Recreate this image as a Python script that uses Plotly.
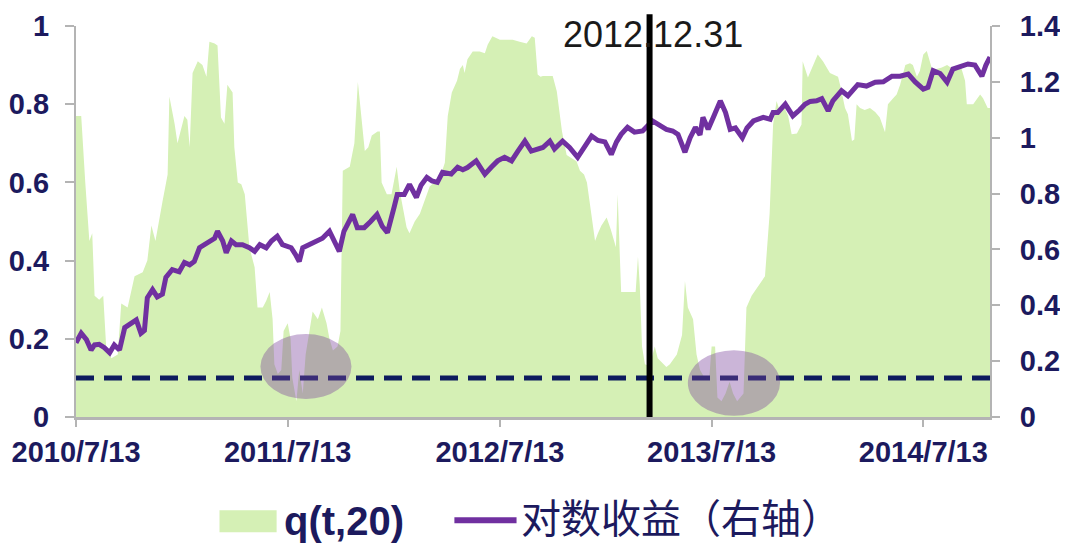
import plotly.graph_objects as go

# q(t,20) series (left axis)
q_dates = [
    '2010-07-13', '2010-07-22', '2010-07-29', '2010-08-05', '2010-08-10', '2010-08-14',
    '2010-08-22', '2010-08-29', '2010-09-03', '2010-09-12', '2010-09-23', '2010-09-29',
    '2010-10-10', '2010-10-22', '2010-11-05', '2010-11-13', '2010-11-20', '2010-11-27',
    '2010-12-09', '2010-12-18', '2010-12-21', '2010-12-30', '2011-01-04', '2011-01-16',
    '2011-01-21', '2011-01-25', '2011-01-30', '2011-02-08', '2011-02-16', '2011-02-23',
    '2011-02-28', '2011-03-09', '2011-03-14', '2011-03-20', '2011-03-26', '2011-03-31',
    '2011-04-09', '2011-04-12', '2011-04-18', '2011-04-24', '2011-04-30', '2011-05-08',
    '2011-05-17', '2011-05-22', '2011-05-31', '2011-06-06', '2011-06-12', '2011-06-17',
    '2011-06-20', '2011-06-26', '2011-07-02', '2011-07-06', '2011-07-13', '2011-07-18',
    '2011-07-21', '2011-07-28', '2011-08-02', '2011-08-08', '2011-08-13', '2011-08-20',
    '2011-08-25', '2011-09-03', '2011-09-10', '2011-09-18', '2011-09-23', '2011-09-29',
    '2011-10-07', '2011-10-12', '2011-10-16', '2011-10-28', '2011-11-05', '2011-11-11',
    '2011-11-16', '2011-11-23', '2011-11-29', '2011-12-05', '2011-12-15', '2011-12-19',
    '2011-12-22', '2011-12-31', '2012-01-08', '2012-01-17', '2012-01-22', '2012-02-03',
    '2012-02-08', '2012-02-17', '2012-02-26', '2012-03-14', '2012-03-31', '2012-04-09',
    '2012-04-14', '2012-04-21', '2012-04-30', '2012-05-05', '2012-05-10', '2012-05-13',
    '2012-05-18', '2012-05-27', '2012-06-08', '2012-06-17', '2012-06-22', '2012-06-30',
    '2012-07-13', '2012-07-25', '2012-08-04', '2012-08-16', '2012-08-28', '2012-09-06',
    '2012-09-11', '2012-09-16', '2012-09-21', '2012-09-25', '2012-10-12', '2012-10-19',
    '2012-10-28', '2012-11-05', '2012-11-22', '2012-11-28', '2012-12-05', '2012-12-10',
    '2012-12-15', '2012-12-24', '2012-12-29', '2013-01-04', '2013-01-13', '2013-01-20',
    '2013-01-29', '2013-02-01', '2013-02-05', '2013-02-07', '2013-02-22', '2013-03-04',
    '2013-03-08', '2013-03-11', '2013-03-15', '2013-03-20', '2013-03-28', '2013-04-06',
    '2013-04-11', '2013-04-18', '2013-04-26', '2013-05-02', '2013-05-14', '2013-05-23',
    '2013-05-28', '2013-06-02', '2013-06-11', '2013-06-17', '2013-06-23', '2013-07-01',
    '2013-07-09', '2013-07-13', '2013-07-19', '2013-07-23', '2013-07-30', '2013-08-06',
    '2013-08-13', '2013-08-19', '2013-08-26', '2013-09-06', '2013-09-11', '2013-09-20',
    '2013-10-04', '2013-10-13', '2013-10-21', '2013-10-27', '2013-11-02', '2013-11-08',
    '2013-11-13', '2013-11-22', '2013-11-28', '2013-12-07', '2013-12-15', '2013-12-17',
    '2013-12-26', '2014-01-04', '2014-01-12', '2014-01-21', '2014-02-02', '2014-02-16',
    '2014-02-21', '2014-02-28', '2014-03-05', '2014-03-12', '2014-03-16', '2014-03-20',
    '2014-03-26', '2014-04-03', '2014-04-12', '2014-04-21', '2014-04-29', '2014-05-08',
    '2014-05-13', '2014-05-22', '2014-05-28', '2014-06-03', '2014-06-12', '2014-06-20',
    '2014-06-25', '2014-07-02', '2014-07-07', '2014-07-13', '2014-07-19', '2014-07-28',
    '2014-08-05', '2014-08-14', '2014-08-23', '2014-09-02', '2014-09-15', '2014-09-23',
    '2014-09-26', '2014-10-07', '2014-10-19', '2014-10-24', '2014-11-01', '2014-11-05',
]
q_values = [
    0.77, 0.77, 0.60, 0.45, 0.47, 0.31,
    0.30, 0.31, 0.18, 0.15, 0.16, 0.29,
    0.28, 0.36, 0.37, 0.40, 0.49, 0.45,
    0.55, 0.62, 0.82, 0.75, 0.70, 0.77,
    0.76, 0.69, 0.88, 0.91, 0.90, 0.87,
    0.96, 0.955, 0.95, 0.766, 0.75, 0.85,
    0.83, 0.69, 0.60, 0.595, 0.57, 0.434,
    0.383, 0.28, 0.28, 0.297, 0.32, 0.25,
    0.135, 0.11, 0.12, 0.22, 0.24, 0.20,
    0.10, 0.04, 0.12, 0.06, 0.16, 0.22,
    0.27, 0.25, 0.28, 0.24, 0.20, 0.17,
    0.18, 0.22, 0.63, 0.64, 0.70, 0.857,
    0.78, 0.68, 0.69, 0.72, 0.73, 0.73,
    0.60, 0.57, 0.57, 0.64, 0.58, 0.485,
    0.47, 0.50, 0.52, 0.59, 0.61, 0.65,
    0.77, 0.83, 0.86, 0.89, 0.90, 0.88,
    0.915, 0.935, 0.935, 0.93, 0.953, 0.974,
    0.965, 0.965, 0.965, 0.96, 0.955, 0.974,
    0.97, 0.876, 0.87, 0.872, 0.872, 0.833,
    0.73, 0.67, 0.654, 0.63, 0.62, 0.60,
    0.55, 0.45, 0.47, 0.49, 0.51, 0.48,
    0.434, 0.57, 0.40, 0.32, 0.32, 0.32,
    0.41, 0.34, 0.18, 0.135, 0.13, 0.18,
    0.15, 0.14, 0.128, 0.135, 0.16, 0.21,
    0.348, 0.28, 0.25, 0.16, 0.12, 0.10,
    0.10, 0.18, 0.18, 0.05, 0.04, 0.06,
    0.09, 0.06, 0.04, 0.06, 0.28, 0.31,
    0.34, 0.36, 0.52, 0.748, 0.808, 0.78,
    0.80, 0.77, 0.723, 0.725, 0.748, 0.91,
    0.868, 0.90, 0.927, 0.91, 0.88, 0.87,
    0.84, 0.79, 0.774, 0.706, 0.71, 0.80,
    0.79, 0.785, 0.79, 0.78, 0.766, 0.728,
    0.80, 0.815, 0.825, 0.85, 0.90, 0.905,
    0.90, 0.87, 0.885, 0.927, 0.936, 0.89,
    0.89, 0.894, 0.90, 0.89, 0.90, 0.86,
    0.80, 0.80, 0.825, 0.815, 0.79, 0.79,
]

# log return series (right axis)
ret_dates = [
    '2010-07-13', '2010-07-22', '2010-07-31', '2010-08-08', '2010-08-14', '2010-08-22',
    '2010-08-31', '2010-09-09', '2010-09-17', '2010-09-26', '2010-10-05', '2010-10-16',
    '2010-10-25', '2010-11-02', '2010-11-08', '2010-11-13', '2010-11-22', '2010-11-30',
    '2010-12-09', '2010-12-15', '2010-12-26', '2011-01-07', '2011-01-16', '2011-01-25',
    '2011-02-02', '2011-02-11', '2011-02-20', '2011-02-28', '2011-03-09', '2011-03-14',
    '2011-03-23', '2011-03-29', '2011-04-07', '2011-04-15', '2011-04-26', '2011-05-08',
    '2011-05-17', '2011-05-26', '2011-06-06', '2011-06-15', '2011-06-25', '2011-07-04',
    '2011-07-19', '2011-07-27', '2011-08-02', '2011-08-08', '2011-08-20', '2011-08-31',
    '2011-09-11', '2011-09-23', '2011-10-02', '2011-10-10', '2011-10-18', '2011-11-02',
    '2011-11-10', '2011-11-22', '2011-12-03', '2011-12-14', '2011-12-23', '2012-01-01',
    '2012-01-13', '2012-01-18', '2012-01-30', '2012-02-08', '2012-02-20', '2012-02-28',
    '2012-03-09', '2012-03-18', '2012-03-27', '2012-04-05', '2012-04-20', '2012-05-01',
    '2012-05-10', '2012-05-18', '2012-06-02', '2012-06-17', '2012-06-28', '2012-07-09',
    '2012-07-21', '2012-08-02', '2012-08-13', '2012-08-25', '2012-09-05', '2012-09-16',
    '2012-09-25', '2012-10-07', '2012-10-15', '2012-10-29', '2012-11-10', '2012-11-24',
    '2012-12-06', '2012-12-18', '2012-12-29', '2013-01-10', '2013-01-21', '2013-01-30',
    '2013-02-07', '2013-02-18', '2013-03-02', '2013-03-16', '2013-04-02', '2013-04-11',
    '2013-04-26', '2013-05-07', '2013-05-16', '2013-05-28', '2013-06-06', '2013-06-15',
    '2013-06-23', '2013-06-28', '2013-07-07', '2013-07-16', '2013-07-28', '2013-08-06',
    '2013-08-14', '2013-08-23', '2013-09-04', '2013-09-12', '2013-09-23', '2013-10-10',
    '2013-10-22', '2013-10-27', '2013-11-04', '2013-11-17', '2013-11-25', '2013-11-30',
    '2013-12-12', '2013-12-21', '2013-12-30', '2014-01-10', '2014-01-19', '2014-01-30',
    '2014-02-07', '2014-02-22', '2014-03-05', '2014-03-14', '2014-03-22', '2014-04-06',
    '2014-04-21', '2014-05-05', '2014-05-20', '2014-06-03', '2014-06-17', '2014-06-29',
    '2014-07-13', '2014-07-21', '2014-07-30', '2014-08-11', '2014-08-23', '2014-09-02',
    '2014-09-15', '2014-09-28', '2014-10-10', '2014-10-22', '2014-10-29', '2014-11-05',
]
ret_values = [
    0.266, 0.30, 0.277, 0.24, 0.258, 0.26,
    0.248, 0.23, 0.258, 0.24, 0.32, 0.337,
    0.348, 0.30, 0.31, 0.427, 0.456, 0.43,
    0.44, 0.50, 0.528, 0.52, 0.553, 0.545,
    0.557, 0.606, 0.617, 0.625, 0.64, 0.665,
    0.63, 0.588, 0.63, 0.617, 0.617, 0.606,
    0.593, 0.617, 0.606, 0.63, 0.647, 0.617,
    0.606, 0.58, 0.557, 0.606, 0.617, 0.63,
    0.64, 0.665, 0.63, 0.593, 0.665, 0.725,
    0.678, 0.678, 0.70, 0.725, 0.683, 0.66,
    0.755, 0.797, 0.797, 0.833, 0.786, 0.83,
    0.858, 0.845, 0.84, 0.876, 0.87, 0.894,
    0.885, 0.893, 0.917, 0.869, 0.894, 0.917,
    0.93, 0.917, 0.952, 0.988, 0.952, 0.96,
    0.965, 0.988, 0.96, 0.988, 0.965, 0.93,
    0.965, 1.006, 0.99, 0.985, 0.94, 0.985,
    1.012, 1.037, 1.02, 1.024, 1.06, 1.048,
    1.03, 1.024, 1.012, 0.948, 1.0, 1.037,
    1.01, 1.073, 1.03, 1.073, 1.132, 1.09,
    1.03, 1.035, 1.0, 1.035, 1.06, 1.073,
    1.066, 1.09, 1.09, 1.12, 1.09, 1.078,
    1.10, 1.12, 1.13, 1.132, 1.14, 1.096,
    1.132, 1.168, 1.15, 1.174, 1.19, 1.185,
    1.199, 1.20, 1.22, 1.22, 1.228, 1.20,
    1.174, 1.18, 1.24, 1.23, 1.199, 1.246,
    1.255, 1.264, 1.26, 1.22, 1.26, 1.289,
]

x_tick_vals = ['2010-07-13', '2011-07-13', '2012-07-13', '2013-07-13', '2014-07-13']
x_tick_text = ['2010/7/13', '2011/7/13', '2012/7/13', '2013/7/13', '2014/7/13']
x_range = ['2010-07-13', '2014-11-05']

threshold = 0.1
marker_date = '2013-03-28'
marker_text = '2012.12.31'
circles = [
    ('2011-05-27', '2011-10-31', 0.046, 0.212),
    ('2013-06-02', '2013-11-08', 0.003, 0.171),
]

NAVY = '#1c1a5e'
AXIS_GRAY = '#b4b4b4'
GREEN = 'rgb(213,240,181)'
PURPLE = '#7030a0'
TICK_FONT = dict(family='Liberation Sans, Arial', size=29, color=NAVY, weight='bold')

fig = go.Figure()

fig.add_trace(go.Scatter(
    x=q_dates, y=q_values, mode='lines', fill='tozeroy',
    fillcolor=GREEN, line=dict(width=0, color=GREEN),
    name='q(t,20)', showlegend=False, hoverinfo='skip'))

fig.add_trace(go.Scatter(
    x=ret_dates, y=ret_values, mode='lines', yaxis='y2',
    line=dict(color=PURPLE, width=5),
    name='对数收益（右轴）', showlegend=False))

shapes = []
# threshold line
shapes.append(dict(type='line', xref='paper', yref='y', x0=0, x1=1,
                   y0=threshold, y1=threshold,
                   line=dict(color='#0d1b5e', width=5, dash='18px,10px'),
                   layer='above'))
# highlight ellipses
for x0, x1, y0, y1 in circles:
    shapes.append(dict(type='circle', xref='x', yref='y',
                       x0=x0, x1=x1, y0=y0, y1=y1,
                       fillcolor='rgba(126,70,158,0.4)', line=dict(width=0),
                       layer='above'))
# marker vertical line
shapes.append(dict(type='line', xref='x', yref='paper',
                   x0=marker_date, x1=marker_date, y0=0, y1=1.03,
                   line=dict(color='black', width=6), layer='above'))

# hand-made legend
shapes.append(dict(type='rect', xref='paper', yref='paper',
                   x0=0.157, x1=0.2195, y0=-0.2946, y1=-0.2384,
                   fillcolor=GREEN, line=dict(width=0)))
shapes.append(dict(type='line', xref='paper', yref='paper',
                   x0=0.414, x1=0.482, y0=-0.264, y1=-0.264,
                   line=dict(color=PURPLE, width=6)))

annotations = [
    dict(text=marker_text, xref='x', yref='paper', x=marker_date, y=0.978,
         xanchor='center', yanchor='middle', xshift=3, showarrow=False,
         font=dict(family='Liberation Sans, Arial', size=36, color='#1a1a1a')),
    dict(text='q(t,20)', xref='paper', yref='paper', x=0.225, y=-0.266,
         xanchor='left', yanchor='middle', showarrow=False,
         font=dict(family='Liberation Sans, Arial', size=40, color=NAVY, weight='bold')),
    dict(text='对数收益（右轴）', xref='paper', yref='paper', x=0.485, y=-0.262,
         xanchor='left', yanchor='middle', showarrow=False,
         font=dict(family='Liberation Sans, Noto Sans CJK SC', size=40, color=NAVY)),
]

# the page body keeps its 8px margin, so the figure is a bit smaller than the window
fig.update_layout(
    width=1060, height=535,
    margin=dict(l=68, r=78, t=18, b=126),
    paper_bgcolor='white', plot_bgcolor='white',
    showlegend=False,
    xaxis=dict(
        type='date', range=x_range, automargin=False,
        tickvals=x_tick_vals, ticktext=x_tick_text,
        tickfont=TICK_FONT, ticks='outside', ticklen=7, tickwidth=2,
        tickcolor=AXIS_GRAY, showline=True, linecolor=AXIS_GRAY, linewidth=2.5,
        showgrid=False, zeroline=False,
    ),
    yaxis=dict(
        range=[0, 1], dtick=0.2, tickfont=TICK_FONT, automargin=False,
        ticks='outside', ticklen=9, tickwidth=2, tickcolor=AXIS_GRAY,
        ticklabelstandoff=10,
        showline=True, linecolor=AXIS_GRAY, linewidth=2,
        showgrid=False, zeroline=False,
    ),
    yaxis2=dict(
        range=[0, 1.4], dtick=0.2, tickfont=TICK_FONT, overlaying='y', side='right',
        automargin=False,
        ticks='outside', ticklen=8, tickwidth=2, tickcolor=AXIS_GRAY,
        ticklabelstandoff=14,
        showline=True, linecolor=AXIS_GRAY, linewidth=2,
        showgrid=False, zeroline=False,
    ),
    shapes=shapes,
    annotations=annotations,
)

fig.write_html('out.html')
